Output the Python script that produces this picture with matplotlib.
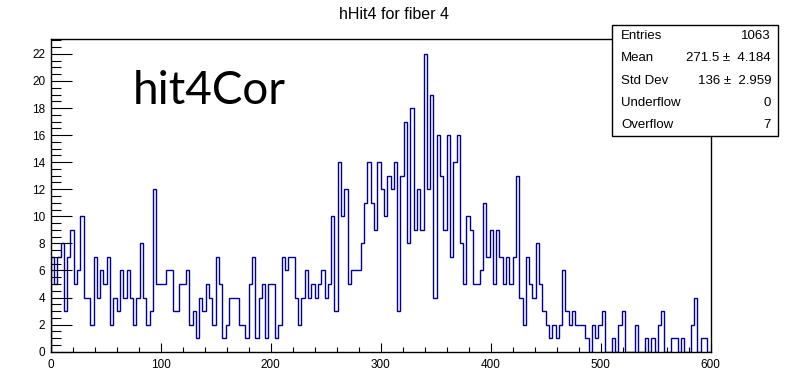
import matplotlib
matplotlib.use("Agg")
import matplotlib.pyplot as plt
from matplotlib.ticker import MultipleLocator
from matplotlib.patches import Rectangle
import numpy as np

# hHit4 bin contents, 200 bins over 0..600
counts = [
    7, 5, 7, 8, 3, 7, 9, 5, 6, 10,
    4, 4, 2, 7, 4, 6, 5, 7, 2, 4,
    3, 6, 4, 6, 4, 2, 4, 8, 4, 2,
    3, 12, 5, 5, 5, 6, 6, 3, 3, 5,
    5, 6, 2, 3, 1, 4, 3, 5, 4, 2,
    7, 5, 1, 2, 4, 4, 4, 2, 2, 1,
    5, 7, 1, 4, 5, 1, 5, 5, 1, 2,
    7, 6, 7, 7, 4, 2, 4, 6, 4, 5,
    4, 5, 6, 4, 5, 10, 3, 14, 10, 12,
    5, 6, 6, 6, 8, 11, 14, 11, 9, 14,
    12, 10, 13, 12, 14, 3, 13, 17, 8, 18,
    9, 12, 9, 22, 12, 19, 4, 16, 13, 9,
    16, 7, 14, 16, 8, 5, 10, 9, 5, 5,
    6, 11, 7, 9, 5, 9, 7, 5, 7, 5,
    7, 13, 4, 2, 7, 5, 4, 8, 5, 3,
    2, 1, 2, 1, 2, 6, 3, 2, 3, 2,
    2, 2, 1, 0, 2, 1, 2, 3, 0, 0,
    1, 0, 2, 3, 0, 0, 0, 2, 0, 0,
    1, 0, 1, 0, 2, 3, 0, 0, 1, 1,
    0, 1, 0, 0, 2, 4, 0, 1, 1, 0,
]
x_range = (0, 600)

title = "hHit4 for fiber 4"
label = "hit4Cor"
stat_names = ["Entries", "Mean", "Std Dev", "Underflow", "Overflow"]
stat_values = ["1063", "271.5 \u00b1  4.184", "136 \u00b1  2.959", "0", "7"]

plt.rcParams['font.family'] = ['Liberation Sans', 'DejaVu Sans']

fig = plt.figure(figsize=(7.88, 3.73), dpi=100)
ax = fig.add_axes([0.0643, 0.0571, 0.8376, 0.8383])

edges = np.linspace(x_range[0], x_range[1], len(counts) + 1)
ax.stairs(counts, edges, baseline=0, color='#000099', linewidth=1.0)

ax.set_xlim(*x_range)
ax.set_ylim(0, max(counts) * 1.05)

ax.xaxis.set_major_locator(MultipleLocator(100))
ax.xaxis.set_minor_locator(MultipleLocator(20))
ax.yaxis.set_major_locator(MultipleLocator(2))
ax.yaxis.set_minor_locator(MultipleLocator(0.5))
ax.tick_params(axis='both', which='both', direction='in', labelsize=8.5, color='black')
ax.tick_params(axis='y', which='major', length=15, width=0.8, pad=4)
ax.tick_params(axis='y', which='minor', length=7.5, width=0.8)
ax.tick_params(axis='x', which='major', length=6.5, width=0.8, pad=5)
ax.tick_params(axis='x', which='minor', length=3.3, width=0.8)
for s in ax.spines.values():
    s.set_linewidth(1.0)

fig.text(0.5, 0.962, title, ha='center', va='center', fontsize=11.5)

ax.text(0.125, 0.835, label, transform=ax.transAxes, fontsize=33,
        family=['Lato', 'DejaVu Sans'], fontweight='normal', ha='left', va='center')

# stats box
bx0, bx1 = 612 / 788, 778 / 788
by0, by1 = 1 - 136 / 373, 1 - 25 / 373
fig.add_artist(Rectangle((bx0, by0), bx1 - bx0, by1 - by0, transform=fig.transFigure,
                         facecolor='white', edgecolor='black', linewidth=1.0, zorder=5))
row_h = (by1 - by0) / len(stat_names)
for i, (name, val) in enumerate(zip(stat_names, stat_values)):
    yy = by1 - row_h * (i + 0.5)
    fig.text(621 / 788, yy, name, ha='left', va='center', fontsize=9.5, zorder=6)
    fig.text(771 / 788, yy, val, ha='right', va='center', fontsize=9.5, zorder=6)

fig.savefig("out.png", dpi=100)
